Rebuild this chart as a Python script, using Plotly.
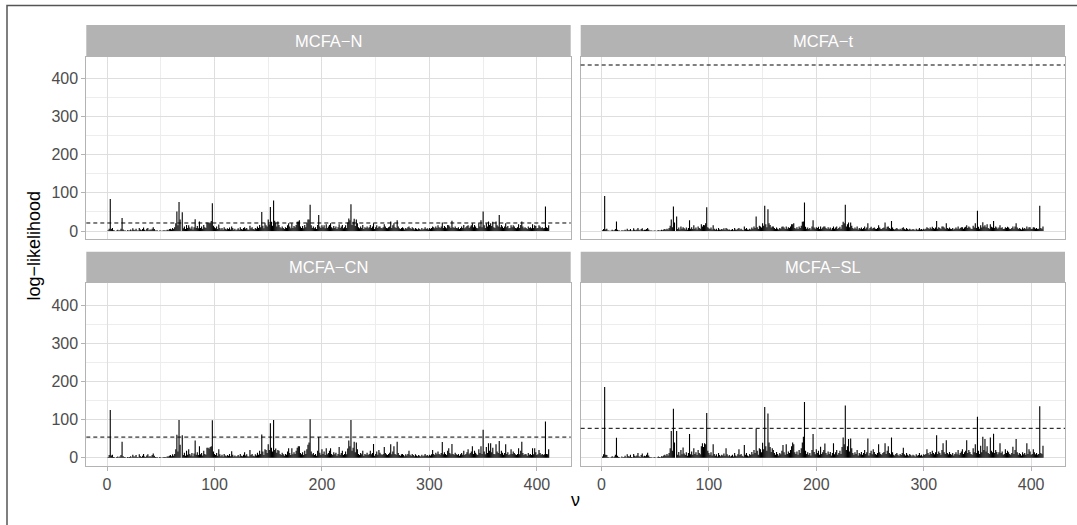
import plotly.graph_objects as go

W, H = 1077, 525

panels = ["MCFA−N", "MCFA−t", "MCFA−CN", "MCFA−SL"]
hline_values = [21, 435, 54, 77]

nu = list(range(1, 412))

base_N = [
    2,6,0,5,8,2,1,0,1,3,1,2,6,0,4,1,1,0,2,1,
    1,4,1,7,3,2,6,1,1,8,4,2,5,9,3,1,6,8,2,4,
    3,6,10,5,1,1,1,0,1,1,0,1,2,1,1,3,2,5,6,4,
    8,5,10,20,0,15,0,30,0,10,7,12,5,16,8,0,9,6,12,4,
    10,0,8,13,7,0,8,12,6,16,10,8,22,0,20,0,26,0,14,10,
    7,12,5,0,8,4,8,3,10,6,4,7,5,9,4,0,8,3,6,2,
    4,7,3,10,5,4,8,0,6,8,4,3,0,7,10,5,4,8,6,12,
    8,16,10,0,14,7,20,0,12,0,18,0,24,14,0,0,22,12,0,16,
    10,7,12,8,5,10,8,15,0,12,7,0,8,13,10,16,24,0,28,12,
    8,13,7,16,10,20,30,0,0,15,8,12,7,10,5,16,0,12,8,0,
    10,15,7,0,8,12,16,0,10,7,13,8,12,5,10,0,8,12,16,7,
    10,15,8,22,0,28,0,16,24,0,13,0,20,10,7,12,8,16,5,10,
    8,12,7,10,16,8,12,0,5,10,15,8,0,12,8,7,10,0,12,8,
    7,10,12,0,8,15,0,10,8,0,12,7,5,8,10,7,4,8,6,10,
    0,8,5,10,7,4,8,6,4,7,5,3,8,4,6,10,5,7,4,8,
    6,8,0,10,7,12,8,15,10,8,12,0,8,13,10,7,16,0,12,8,
    0,10,8,12,8,7,10,5,8,12,8,16,7,10,13,0,8,12,15,0,
    10,16,12,8,7,20,12,28,10,0,15,8,0,12,0,16,0,13,24,10,
    8,0,15,12,0,10,16,12,8,12,0,10,13,7,8,0,10,15,12,8,
    7,10,0,8,16,0,12,7,10,8,5,12,8,10,7,0,8,10,13,7,
    8,0,12,8,10,7,8,0,10,8,0,
]

base_t = [
    2,5,0,4,6,1,1,0,1,3,1,2,5,0,3,1,1,0,2,1,
    1,3,1,6,2,2,5,1,1,7,3,2,4,8,3,1,5,7,2,3,
    3,5,8,4,1,1,1,0,1,1,0,1,2,1,1,3,2,4,5,3,
    6,4,8,14,0,10,0,22,0,8,5,9,4,12,6,0,7,4,9,3,
    8,0,6,10,5,0,6,9,4,12,8,6,18,0,16,0,20,0,10,7,
    5,9,4,0,6,3,6,2,8,4,3,5,4,7,3,0,6,3,4,2,
    3,5,2,8,4,3,6,0,4,6,3,2,0,5,8,4,3,6,4,9,
    6,12,8,0,10,5,14,0,9,0,14,0,18,10,0,0,16,9,0,12,
    8,5,9,6,4,8,6,11,0,9,5,0,6,10,8,12,18,0,20,8,
    6,10,5,12,8,14,24,0,0,11,6,9,5,8,4,12,0,9,6,0,
    8,11,5,0,6,9,12,0,8,5,10,6,9,4,8,0,6,9,12,5,
    8,11,6,16,0,20,0,12,18,0,10,0,14,8,5,9,6,12,4,8,
    6,9,5,8,12,6,9,0,4,8,11,6,0,9,6,5,8,0,9,6,
    5,8,9,0,6,11,0,8,6,0,9,5,4,6,8,5,3,6,4,8,
    0,6,4,8,5,3,6,4,3,5,4,2,6,3,4,8,4,5,3,6,
    4,6,0,8,5,9,6,11,8,6,9,0,6,10,8,5,12,0,9,6,
    0,8,6,9,6,5,8,4,6,9,6,12,5,8,10,0,6,9,11,0,
    8,12,9,6,5,14,9,20,8,0,11,6,0,9,0,12,0,10,18,8,
    6,0,11,9,0,8,12,9,6,9,0,8,10,5,6,0,8,11,9,6,
    5,8,0,6,12,0,9,5,8,6,4,9,6,8,5,0,6,8,10,5,
    6,0,9,6,8,5,6,0,8,6,0,
]

base_CN = [
    2,7,0,6,8,2,1,0,2,3,1,3,7,0,4,2,1,0,2,1,
    2,4,1,8,3,3,7,2,1,9,4,2,5,10,3,2,6,9,3,4,
    3,7,11,5,2,1,1,0,2,1,0,1,2,2,1,3,3,5,7,4,
    9,5,10,22,0,16,0,34,0,11,7,13,5,18,8,0,10,6,12,4,
    11,0,8,14,7,0,9,12,6,18,10,8,26,0,24,0,30,0,16,10,
    7,12,5,0,9,4,8,3,10,6,4,7,5,10,4,0,8,3,6,3,
    4,7,3,10,5,4,8,0,6,9,4,3,0,7,10,5,4,9,6,13,
    8,18,10,0,16,7,22,0,12,0,20,0,26,16,0,0,24,13,0,18,
    10,7,13,9,5,10,8,16,0,12,7,0,9,14,10,18,26,0,30,12,
    9,14,7,18,10,22,34,0,0,16,9,12,7,10,5,18,0,13,8,0,
    10,16,7,0,9,12,18,0,10,7,14,9,13,5,10,0,8,12,18,7,
    10,16,9,24,0,30,0,18,26,0,14,0,22,10,7,12,9,18,5,10,
    8,13,7,10,18,9,12,0,5,10,16,8,0,13,9,7,10,0,12,9,
    7,10,13,0,9,16,0,10,8,0,12,7,5,9,10,7,4,9,6,10,
    0,8,5,10,7,4,9,6,4,7,5,3,8,4,6,10,5,7,4,8,
    6,9,0,10,7,13,9,16,10,8,12,0,9,14,10,7,18,0,12,9,
    0,10,8,13,9,7,10,5,9,12,8,18,7,10,14,0,9,12,16,0,
    10,18,13,9,7,22,12,30,10,0,16,9,0,12,0,18,0,14,26,10,
    9,0,16,12,0,10,18,13,8,12,0,10,14,7,9,0,10,16,12,9,
    7,10,0,9,18,0,12,7,10,9,5,12,8,10,7,0,9,10,14,7,
    9,0,12,8,10,7,9,0,10,9,0,
]

base_SL = [
    3,9,0,8,7,2,1,0,2,4,1,3,8,0,5,2,1,0,3,1,
    2,5,1,9,4,3,8,2,1,10,5,3,6,12,4,2,7,11,3,5,
    4,8,13,6,2,1,1,0,2,1,0,1,3,2,1,4,3,6,8,5,
    10,6,12,25,0,18,0,40,0,12,8,15,6,20,9,0,11,7,14,5,
    12,0,9,16,8,0,10,14,7,20,12,9,30,0,28,0,35,0,18,12,
    8,14,6,0,10,5,9,3,12,7,4,8,6,11,5,0,9,4,7,3,
    5,8,3,12,6,4,9,0,7,10,5,3,0,8,12,6,4,10,7,15,
    9,20,12,0,18,8,25,0,14,0,22,0,30,18,0,0,28,15,0,20,
    12,8,15,10,6,12,9,18,0,14,8,0,10,16,12,20,30,0,35,14,
    10,16,8,20,12,25,40,0,0,18,10,14,8,12,6,20,0,15,9,0,
    12,18,8,0,10,14,20,0,12,8,16,10,15,6,12,0,9,14,20,8,
    12,18,10,28,0,35,0,20,30,0,16,0,25,12,8,14,10,20,6,12,
    9,15,8,12,20,10,14,0,6,12,18,9,0,15,10,8,12,0,14,10,
    8,12,15,0,10,18,0,12,9,0,14,8,6,10,12,8,5,10,7,12,
    0,9,6,12,8,5,10,7,4,8,6,3,9,5,7,12,6,8,4,9,
    7,10,0,12,8,15,10,18,12,9,14,0,10,16,12,8,20,0,14,10,
    0,12,9,15,10,8,12,6,10,14,9,20,8,12,16,0,10,14,18,0,
    12,20,15,10,8,25,14,35,12,0,18,10,0,14,0,20,0,16,30,12,
    10,0,18,14,0,12,20,15,9,14,0,12,16,8,10,0,12,18,14,10,
    8,12,0,10,20,0,14,8,12,10,6,14,9,12,8,0,10,12,16,8,
    10,0,14,9,12,8,10,0,12,10,0,
]

spike_x  = [3, 14, 65, 67, 70, 76, 82, 86, 94, 96, 98, 104, 116, 128, 133, 144, 148, 150, 152, 155,
            156, 159, 169, 172, 178, 188, 189, 197, 200, 204, 208, 216, 225, 227, 230, 232, 248, 253, 258, 264,
            267, 270, 281, 303, 312, 318, 321, 336, 340, 350, 353, 355, 357, 362, 365, 371, 376, 383, 386, 396,
            398, 402, 408, 411]
spike_N  = [84, 34, 51, 76, 49, 15, 31, 25, 20, 22, 73, 17, 12, 10, 14, 50, 15, 30, 63, 80,
            27, 25, 20, 20, 25, 30, 69, 42, 15, 18, 20, 18, 33, 70, 32, 30, 20, 12, 18, 25,
            20, 28, 12, 12, 22, 15, 27, 15, 20, 51, 20, 25, 20, 25, 42, 20, 15, 18, 25, 18,
            15, 15, 64, 15]
spike_t  = [92, 25, 30, 64, 38, 10, 28, 15, 12, 15, 62, 15, 8, 8, 12, 38, 12, 20, 66, 57,
            20, 12, 12, 12, 18, 25, 75, 28, 10, 12, 12, 12, 24, 69, 22, 22, 20, 8, 15, 22,
            12, 26, 10, 10, 26, 12, 20, 10, 15, 53, 15, 23, 15, 18, 26, 15, 10, 12, 20, 12,
            10, 10, 66, 12]
spike_CN = [125, 42, 60, 99, 59, 22, 45, 30, 26, 28, 98, 22, 17, 14, 20, 61, 20, 35, 90, 99,
            20, 20, 25, 25, 30, 40, 101, 54, 22, 25, 25, 28, 45, 99, 42, 40, 36, 20, 28, 35,
            30, 42, 18, 20, 41, 25, 36, 22, 30, 73, 28, 38, 38, 35, 44, 35, 22, 25, 42, 25,
            25, 20, 95, 22]
spike_SL = [185, 52, 70, 128, 70, 27, 62, 25, 38, 38, 117, 35, 25, 22, 33, 75, 22, 39, 133, 116,
            40, 25, 33, 35, 40, 55, 146, 62, 22, 29, 37, 38, 53, 137, 49, 50, 50, 22, 35, 38,
            30, 53, 26, 22, 59, 38, 46, 22, 46, 107, 31, 55, 49, 53, 63, 38, 22, 29, 49, 38,
            22, 22, 135, 31]

bases = [base_N, base_t, base_CN, base_SL]
spikes = [spike_N, spike_t, spike_CN, spike_SL]

# ---- geometry (pixels) ----
def fx(px):
    return px / W

def fy(py):
    return 1 - py / H

col_x = [(86.3, 570.7), (580.7, 1065.0)]
row_plot = [(56.7, 239.3), (283.4, 466.0)]
row_strip = [(25.0, 56.2), (251.7, 282.9)]

xr = [-19.3, 431.5]
yr = [-21.75, 456.75]

FONT = "Liberation Sans, Arial, sans-serif"
fig = go.Figure()
shapes = []
annotations = []

for i, name in enumerate(panels):
    r, c = divmod(i, 2)
    vals = list(bases[i])
    for sx, sv in zip(spike_x, spikes[i]):
        vals[sx - 1] = sv
    xs, ys = [], []
    for x, v in zip(nu, vals):
        xs += [x, x, None]
        ys += [0, v, None]
    k = i + 1
    xa = "x" if k == 1 else f"x{k}"
    ya = "y" if k == 1 else f"y{k}"
    fig.add_trace(go.Scatter(x=xs, y=ys, mode="lines", xaxis=xa, yaxis=ya,
                             line=dict(color="black", width=1.1), hoverinfo="skip",
                             showlegend=False))
    x0, x1 = col_x[c]
    y0, y1 = row_plot[r]
    show_x = (r == 1)
    show_y = (c == 0)
    xkey = "xaxis" if k == 1 else f"xaxis{k}"
    ykey = "yaxis" if k == 1 else f"yaxis{k}"
    common = dict(tickvals=[0, 100, 200, 300, 400],
                  ticklen=4, tickwidth=1, tickcolor="#B3B3B3",
                  showgrid=True, gridcolor="#DEDEDE", gridwidth=1,
                  minor=dict(tickvals=[50, 150, 250, 350], showgrid=True,
                             gridcolor="#EDEDED", gridwidth=1, ticks=""),
                  showline=True, mirror=True, linecolor="#B3B3B3", linewidth=1,
                  zeroline=False,
                  tickfont=dict(family=FONT, size=16, color="#4D4D4D"))
    fig.update_layout(**{
        xkey: dict(domain=[fx(x0), fx(x1)], anchor=ya, range=xr,
                   showticklabels=show_x, ticks="outside" if show_x else "", **common),
        ykey: dict(domain=[fy(y1), fy(y0)], anchor=xa, range=yr,
                   showticklabels=show_y, ticks="outside" if show_y else "", **common),
    })
    # dashed reference line
    shapes.append(dict(type="line", xref=f"{xa} domain", yref=ya, x0=0, x1=1,
                       y0=hline_values[i], y1=hline_values[i],
                       line=dict(color="black", width=1, dash="4px,3px"), layer="above"))
    # strip
    sy0, sy1 = row_strip[r]
    shapes.append(dict(type="rect", xref="paper", yref="paper",
                       x0=fx(x0), x1=fx(x1), y0=fy(sy1), y1=fy(sy0),
                       fillcolor="#B3B3B3", line=dict(width=0), layer="above"))
    annotations.append(dict(text=name, xref="paper", yref="paper",
                            x=fx((x0 + x1) / 2), y=fy((sy0 + sy1) / 2),
                            showarrow=False, xanchor="center", yanchor="middle",
                            font=dict(family=FONT, size=16.5, color="white")))

# axis titles
annotations.append(dict(text="ν", xref="paper", yref="paper",
                        x=fx((86.3 + 1065.0) / 2), y=fy(500), showarrow=False,
                        xanchor="center", yanchor="middle",
                        font=dict(family=FONT, size=18, color="black")))
annotations.append(dict(text="log−likelihood", xref="paper", yref="paper",
                        x=fx(33), y=fy((25 + 466) / 2), showarrow=False, textangle=-90,
                        xanchor="center", yanchor="middle",
                        font=dict(family=FONT, size=18, color="black")))

# outer frame
shapes.append(dict(type="path", xref="paper", yref="paper",
                   path=f"M {fx(7)},{fy(525)} L {fx(7)},{fy(5.5)} L {fx(1077)},{fy(5.5)}",
                   line=dict(color="#555555", width=1.5)))

fig.update_layout(width=W, height=H, margin=dict(l=0, r=0, t=0, b=0),
                  paper_bgcolor="white", plot_bgcolor="white",
                  shapes=shapes, annotations=annotations, showlegend=False)

fig.write_html("out.html")
